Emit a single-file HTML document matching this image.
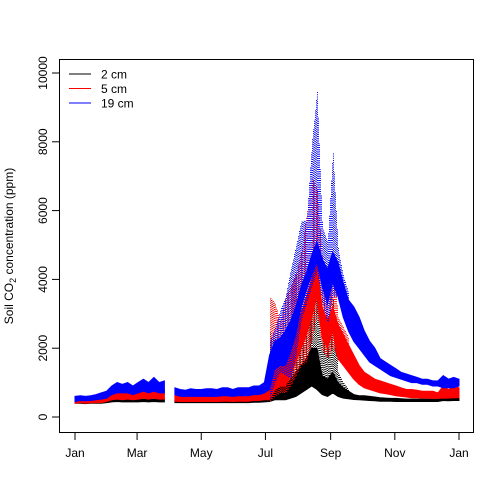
<!DOCTYPE html>
<html><head><meta charset="utf-8"><style>
body{margin:0;background:#fff}
svg{display:block;font-family:"Liberation Sans",sans-serif}
</style></head><body>
<svg id="c" width="504" height="504"></svg>
<script>
const days=[0,5,10,15,20,25,30,35,40,45,50,55,60,65,70,75,80,85,90,95,100,105,110,115,120,125,130,135,140,145,150,155,160,165,170,175,180,185,190,195,200,205,210,215,220,225,230,235,240,245,250,255,260,265,270,275,280,285,290,295,300,305,310,315,320,325,330,335,340,345,350,355,360,365];
const blueHi=[600,620,600,620,650,700,750,900,1000,950,1000,900,1000,1100,1000,1150,1000,1050,null,850,800,780,820,800,800,820,820,800,850,850,800,850,850,850,900,900,1000,1800,2200,2300,2500,2800,3200,3800,4200,4700,5100,4600,4300,4800,4500,3900,3400,3200,2900,2500,2200,2000,1700,1600,1500,1400,1300,1250,1200,1150,1100,1100,1050,1050,1200,1100,1150,1100];
const blueLo=[450,480,470,480,500,520,550,650,700,700,700,650,700,750,700,750,700,700,null,650,600,600,600,600,600,600,600,600,620,620,600,620,620,620,650,650,700,800,1400,1500,1500,1900,2400,3200,3700,4100,4500,3800,3300,3900,3500,2900,2500,2200,2000,1800,1600,1500,1400,1300,1200,1150,1100,1050,1000,1000,950,950,900,900,850,850,850,900];
const redHi=[500,500,480,500,500,520,600,700,750,700,800,700,750,800,750,900,800,800,null,650,600,580,600,580,580,600,600,600,620,620,600,620,650,650,700,700,750,1200,1800,2000,2000,2200,2600,3000,3500,4000,4500,3200,2800,3200,2700,2400,2100,1800,1500,1300,1200,1100,1050,1000,950,900,850,800,800,780,750,750,750,700,900,800,900,850];
const redLo=[400,420,400,410,420,420,450,500,520,500,520,500,520,550,520,550,520,520,null,460,450,450,450,450,450,450,450,450,460,460,450,460,460,460,480,480,500,500,800,900,900,1200,1600,2000,2400,2900,3500,2300,2000,2500,1700,1500,1300,1100,950,850,800,750,700,680,650,620,600,580,560,560,550,550,540,540,550,550,560,560];
const blkHi=[450,450,440,450,450,460,480,500,550,500,520,500,500,520,500,520,500,500,null,480,470,470,470,470,470,470,470,470,480,480,470,480,480,480,490,490,500,700,1000,1000,900,1100,1300,1500,1700,2000,2000,1200,1100,1300,1000,850,750,650,620,620,600,580,560,550,540,540,530,520,520,520,520,520,520,520,700,650,700,700];
const blkLo=[400,400,390,400,400,400,420,440,450,440,440,440,440,450,440,450,440,440,null,420,420,420,420,420,420,420,420,420,420,420,420,420,420,420,430,430,440,450,500,500,500,550,600,700,800,900,800,650,600,700,600,550,530,510,500,490,480,470,460,460,460,450,450,450,450,450,450,450,450,450,480,470,480,480];
const peakDays=[185,190,195,200,205,210,215,220,225,230,235,240,245,250,255,260];
const bluePeak=[2200,2600,3100,3500,4300,5000,5700,5700,8000,9500,5500,5100,7800,4900,4100,3600];
const blueTrough=[500,1000,1300,1200,1100,1800,2800,3300,3800,4200,3300,2700,3500,3500,2900,2500];
const redPeak=[3500,3300,2800,3500,3800,4200,4800,5900,7000,6600,4600,3700,4700,2900,2600,2300];
const redTrough=[450,600,700,700,900,1200,1500,1600,2200,3000,1900,1700,2000,1650,1500,1300];
const blkPeak=[2500,2000,2300,1800,2500,2800,3400,3500,4100,4500,2500,2000,3500,1300,1000,800];
const yTicks=[0,2000,4000,6000,8000,10000];
const xTickDays=[0,59,120,181,243,304,365];
const xTickLabels=["Jan","Mar","May","Jul","Sep","Nov","Jan"];
const NS="http://www.w3.org/2000/svg";
const svg=document.getElementById('c');
const X=d=>75+d*384/365;
const Y=v=>417-v*0.0344;
function mk(tag,attrs,parent){const e=document.createElementNS(NS,tag);for(const k in attrs)e.setAttribute(k,attrs[k]);(parent||svg).appendChild(e);return e;}
function interpOn(xs,arr,d){for(let i=0;i<xs.length-1;i++){if(d>=xs[i]&&d<=xs[i+1]){const a=arr[i],b=arr[i+1];if(a==null||b==null)return a||b;return a+(b-a)*(d-xs[i])/(xs[i+1]-xs[i]);}}return null;}
function band(hi,lo,color,name){
  let segs=[],cur=[];
  for(let i=0;i<days.length;i++){if(hi[i]==null){if(cur.length)segs.push(cur);cur=[];}else cur.push(i);}
  if(cur.length)segs.push(cur);
  segs.forEach(s=>{
    let pts=s.map(i=>X(days[i]).toFixed(1)+","+Y(hi[i]).toFixed(1));
    pts=pts.concat(s.slice().reverse().map(i=>X(days[i]).toFixed(1)+","+Y(lo[i]).toFixed(1)));
    const p=mk('polygon',{points:pts.join(' '),fill:color,stroke:color,'stroke-width':1});
    
    
  });
}
function dots(topArr,topOnPeak,botArr,botOnPeak,color,name){
  const g=mk('g',{stroke:color,'stroke-width':1,'stroke-dasharray':'1,1.2'});
  
  
  const x0=Math.ceil(X(peakDays[0])),x1=Math.floor(X(peakDays[peakDays.length-1]));
  for(let x=x0;x<=x1;x++){
    const d=(x-75)*365/384;
    const top=interpOn(topOnPeak?peakDays:days,topArr,d),base=interpOn(botOnPeak?peakDays:days,botArr,d);
    if(top==null||base==null||top<=base)continue;
    const l=mk('line',{x1:x+0.5,x2:x+0.5,y1:Y(base),y2:Y(top),'stroke-dashoffset':(x%2)},g);
    
    
  }
}
band(blkHi,blkLo,'#000','series-2cm');
dots(blkPeak,true,blkHi,false,'#000','peaks-2cm');
band(redHi,redLo,'#f00','series-5cm');
dots(redPeak,true,redHi,false,'#f00','peaks-5cm');
dots(redLo,false,redTrough,true,'#f00','troughs-5cm');
band(blueHi,blueLo,'#00f','series-19cm');
dots(bluePeak,true,blueHi,false,'#00f','peaks-19cm');
dots(blueLo,false,blueTrough,true,'#00f','troughs-19cm');
const box=mk('rect',{x:59.5,y:59.5,width:414,height:373,fill:'none',stroke:'#000'});


yTicks.forEach(v=>{
  const y=Y(v);
  const t=mk('line',{x1:52,x2:59.5,y1:y,y2:y,stroke:'#000'});
  
  
  const l=mk('text',{x:0,y:0,transform:`translate(47,${y}) rotate(-90)`,'text-anchor':'middle','font-size':12});
  l.textContent=v;
  
  
});
xTickDays.forEach((d,i)=>{
  const x=X(d);
  const t=mk('line',{x1:x,x2:x,y1:432.5,y2:440,stroke:'#000'});
  
  
  const l=mk('text',{x:x,y:457,'text-anchor':'middle','font-size':12});
  l.textContent=xTickLabels[i];
  
  
});
const yt=mk('text',{x:0,y:0,transform:'translate(13,246) rotate(-90)','text-anchor':'middle','font-size':12});
yt.innerHTML='Soil CO<tspan font-size="9" dy="3">2</tspan><tspan dy="-3"> concentration (ppm)</tspan>';


[["2 cm","#000"],["5 cm","#f00"],["19 cm","#00f"]].forEach((e,i)=>{
  const y=74+i*14.5;
  const l=mk('line',{x1:69,x2:91,y1:y,y2:y,stroke:e[1]});
  
  
  const t=mk('text',{x:101,y:y+4.5,'font-size':12});
  t.textContent=e[0];
  
  
});
</script>
</body></html>
